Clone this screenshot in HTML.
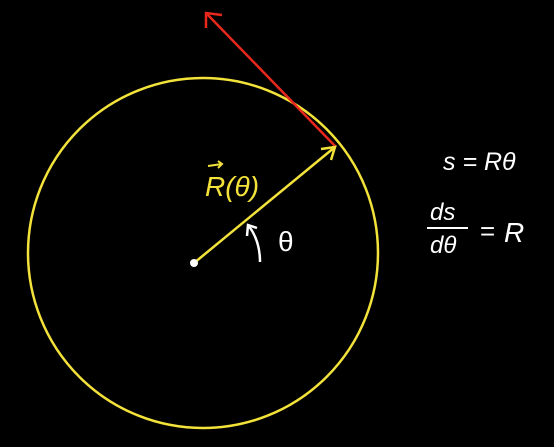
<!DOCTYPE html>
<html><head><meta charset="utf-8"><style>
html,body{margin:0;padding:0;background:#000;}
svg{display:block;}
text{font-family:"Liberation Sans",sans-serif;}
</style></head><body>
<svg width="554" height="447" viewBox="0 0 554 447">
<rect width="554" height="447" fill="#000"/>
<ellipse cx="203" cy="253" rx="175" ry="175" fill="none" stroke="#f2e23a" stroke-width="2.5"/>
<g>
<line x1="336" y1="147" x2="206" y2="13" stroke="#e8281c" stroke-width="2.5"/>
<polyline points="206,28 206,13 222,15" fill="none" stroke="#e8281c" stroke-width="2.5"/>
</g>
<g>
<line x1="194" y1="263" x2="335" y2="147" stroke="#f2e23a" stroke-width="2.5"/>
<polyline points="321,149 335,147 331,160" fill="none" stroke="#f2e23a" stroke-width="2.5"/>
</g>
<circle cx="194" cy="263" r="4" fill="#fff"/>
<g>
<text x="205" y="196" font-size="28" fill="#f2e23a" font-style="italic">R(θ)</text>
<line x1="208" y1="166" x2="222" y2="164" stroke="#f2e23a" stroke-width="2"/>
<polyline points="218,161 222,164 218,168" fill="none" stroke="#f2e23a" stroke-width="2"/>
</g>
<g>
<path d="M260,262 Q260,240 248,225" fill="none" stroke="#fff" stroke-width="2.5"/>
<polyline points="247,236 248,225 257,228" fill="none" stroke="#fff" stroke-width="2.5"/>
</g>
<text x="278" y="251" font-size="28" fill="#fff">θ</text>
<text x="443" y="170" font-size="25" fill="#fff" font-style="italic">s = Rθ</text>
<g>
<text x="430" y="220" font-size="24" fill="#fff" font-style="italic">ds</text>
<line x1="427" y1="228" x2="468" y2="228" stroke="#fff" stroke-width="2"/>
<text x="430" y="253" font-size="24" fill="#fff" font-style="italic">dθ</text>
<text x="480" y="240" font-size="26" fill="#fff">=</text>
<text x="504" y="242" font-size="28" fill="#fff" font-style="italic">R</text>
</g>
</svg>
</body></html>
